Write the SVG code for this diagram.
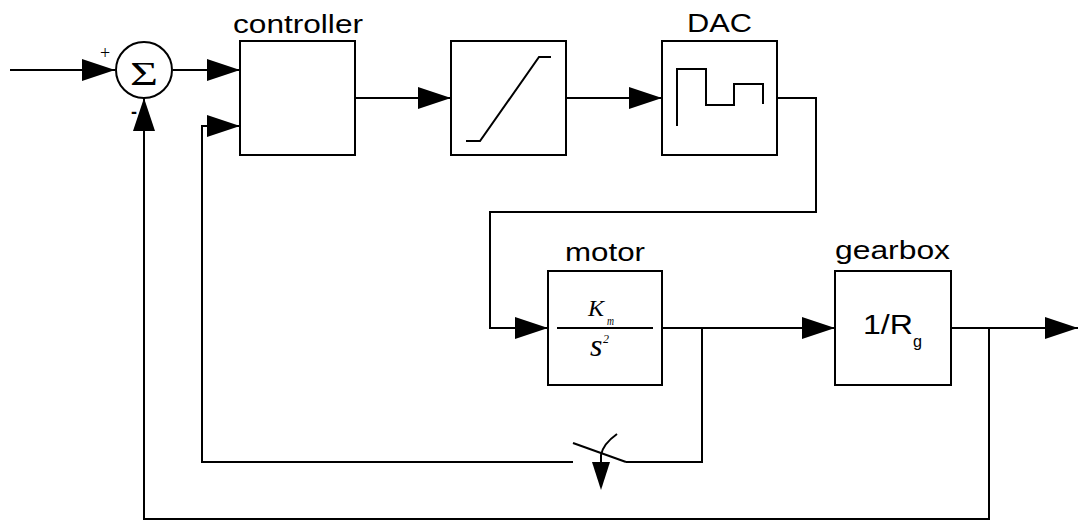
<svg xmlns="http://www.w3.org/2000/svg" width="1078" height="520" viewBox="0 0 1078 520">
<defs>
<marker id="arr" markerUnits="userSpaceOnUse" markerWidth="34" markerHeight="22" refX="33" refY="11" orient="auto">
<path d="M0,0 L33,11 L0,22 z" fill="#000"/>
</marker>
<style>
.box{fill:#fff;stroke:#000;stroke-width:2}
.ln{fill:none;stroke:#000;stroke-width:2}
.lbl{font-family:"Liberation Sans",Arial,sans-serif;fill:#000}
.math{font-family:"Liberation Serif","Times New Roman",serif;fill:#000}
</style>
</defs>
<rect width="1078" height="520" fill="#fff"/>

<g id="connectors">
<path class="ln" d="M10,70 H115" marker-end="url(#arr)"/>
<path class="ln" d="M173,70 H240" marker-end="url(#arr)"/>
<path class="ln" d="M355,98 H451" marker-end="url(#arr)"/>
<path class="ln" d="M566,98 H662" marker-end="url(#arr)"/>
<path class="ln" d="M777,98 H816 V212 H490 V328 H548" marker-end="url(#arr)"/>
<path class="ln" d="M662,328 H835" marker-end="url(#arr)"/>
<path class="ln" d="M951,328 H1078" marker-end="url(#arr)"/>
<path class="ln" d="M702,328 V462 H626"/>
<path class="ln" d="M573,462 H202 V126 H240" marker-end="url(#arr)"/>
<path class="ln" d="M989,328 V519 H144 V98" marker-end="url(#arr)"/>
</g>

<g id="sum">
<circle cx="144" cy="70" r="28" class="box"/>
<text x="144" y="85" class="math" font-size="34" text-anchor="middle" textLength="28" lengthAdjust="spacingAndGlyphs">Σ</text>
<text x="105" y="59" class="math" font-size="18" text-anchor="middle">+</text>
<text x="134" y="118" class="lbl" font-size="18" font-weight="bold" text-anchor="middle">-</text>
</g>

<g id="controller">
<rect x="240" y="41" width="115" height="114" class="box"/>
<text x="233" y="33" class="lbl" font-size="25" textLength="130" lengthAdjust="spacingAndGlyphs">controller</text>
</g>

<g id="saturation">
<rect x="451" y="41" width="115" height="114" class="box"/>
<path class="ln" d="M466,141 H480 L539,57 H551"/>
</g>

<g id="dac">
<rect x="662" y="41" width="115" height="114" class="box"/>
<text x="687" y="32" class="lbl" font-size="26" textLength="65" lengthAdjust="spacingAndGlyphs">DAC</text>
<path class="ln" d="M677,126 V69 H706 V105 H734 V84 H763 V104"/>
</g>

<g id="motor">
<rect x="548" y="271" width="114" height="114" class="box"/>
<text x="565" y="261" class="lbl" font-size="26" textLength="80" lengthAdjust="spacingAndGlyphs">motor</text>
<line x1="557" y1="328" x2="653" y2="328" class="ln"/>
<text x="588" y="316" class="math" font-size="24" font-style="italic">K</text>
<text x="607" y="325" class="math" font-size="13" font-style="italic" textLength="7" lengthAdjust="spacingAndGlyphs">m</text>
<text x="590" y="356" class="math" font-size="32" font-style="italic">s</text>
<text x="603" y="343" class="math" font-size="12" font-style="italic">2</text>
</g>

<g id="gearbox">
<rect x="835" y="271" width="116" height="114" class="box"/>
<text x="835" y="259" class="lbl" font-size="26" textLength="115" lengthAdjust="spacingAndGlyphs">gearbox</text>
<text x="863" y="334" class="lbl" font-size="28" textLength="50" lengthAdjust="spacingAndGlyphs">1/R</text>
<text x="913" y="347" class="lbl" font-size="16" textLength="9" lengthAdjust="spacingAndGlyphs">g</text>
</g>

<g id="switch">
<path class="ln" d="M573,443 L626,462"/>
<path class="ln" d="M601,466 V455 Q603,444 617,434"/>
<polygon points="592,462 610,462 601,490" fill="#000"/>
</g>
</svg>
